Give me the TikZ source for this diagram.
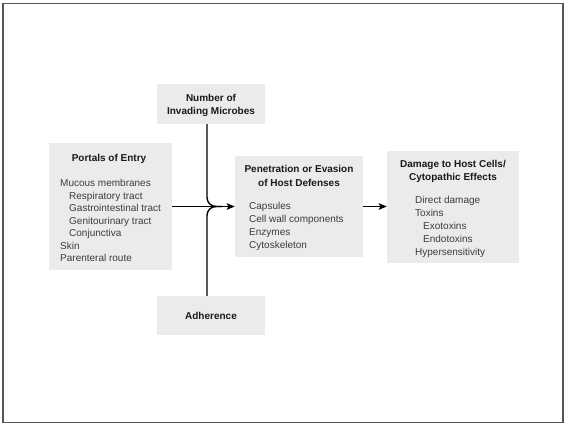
\documentclass[tikz,border=0pt]{standalone}
\usepackage{fontspec}
\setmainfont{Liberation Sans}
\usetikzlibrary{positioning}
\usetikzlibrary{arrows.meta}

\definecolor{boxgray}{HTML}{EBEBEB}
\definecolor{listgray}{HTML}{3C3C3C}
\definecolor{framegray}{HTML}{555555}

\tikzset{
  box/.style={fill=boxgray, draw=none, inner sep=0pt},
  head/.style={font=\fontsize{10}{12}\selectfont\bfseries, text=black!90, inner sep=0pt, anchor=base},
  item/.style={font=\fontsize{10}{12}\selectfont, text=listgray, inner sep=0pt, anchor=base west},
  link/.style={line width=1.4pt},
  flow/.style={line width=1.4pt, -{Stealth[length=8pt,width=6.5pt,inset=1.5pt]}},
}

\begin{document}
\begin{tikzpicture}[x=1pt, y=-1pt]
  \useasboundingbox (0,0) rectangle (564,424);

  % Outer frame
  \draw[framegray, line width=1.5pt] (3,3.5) rectangle (563,422.5);

  % Draw the five gray boxes
  \node[box, minimum width=123pt, minimum height=127pt] (portals) at (110.5,206.5) {};
  \node[box, minimum width=108pt, minimum height=40pt] (number) at (211,104) {};
  \node[box, minimum width=108pt, minimum height=39pt] (adherence) at (211,315.5) {};
  \node[box, minimum width=128pt, minimum height=101pt] (penetration) at (299,206.5) {};
  \node[box, minimum width=132pt, minimum height=112pt] (damage) at (453,206.5) {};

  % Headings
  \node[head] (portals-t) at (109,161.5) {Portals of Entry};
  \node[head] (number-t1) at (211,101.5) {Number of};
  \node[head] (number-t2) at (211,114) {Invading Microbes};
  \node[head] (adherence-t) at (211,319) {Adherence};
  \node[head] (penetration-t1) at (299,172.5) {Penetration or Evasion};
  \node[head] (penetration-t2) at (299,186.5) {of Host Defenses};
  \node[head] (damage-t1) at (453,167.5) {Damage to Host Cells/};
  \node[head] (damage-t2) at (453,180.5) {Cytopathic Effects};

  % Lists inside the boxes
  \foreach \txt/\dx [count=\i] in {Mucous membranes/0, Respiratory tract/9,
      Gastrointestinal tract/9, Genitourinary tract/9, Conjunctiva/9, Skin/0,
      Parenteral route/0}
    \node[item] (portals-\i) at (60+\dx,186.5+12.5*\i-12.5) {\txt};
  \foreach \txt [count=\i] in {Capsules, Cell wall components, Enzymes, Cytoskeleton}
    \node[item] (penetration-\i) at (249,209.5+12.9*\i-12.9) {\txt};
  \foreach \txt/\dx [count=\i] in {Direct damage/0, Toxins/0, Exotoxins/8,
      Endotoxins/8, Hypersensitivity/0}
    \node[item] (damage-\i) at (415+\dx,203.5+12.9*\i-12.9) {\txt};

  % Number and adherence join the main line
  \coordinate (vx) at (207,0);
  \coordinate (joint) at (222,206.5);
  \draw[link, rounded corners=9pt] (number.south -| vx) |- (joint);
  \draw[link, rounded corners=9pt] (adherence.north -| vx) |- (joint);

  % Main flow
  \draw[flow] (portals.east) -- (penetration.west);
  \draw[flow] (penetration.east) -- (damage.west);

\end{tikzpicture}
\end{document}
